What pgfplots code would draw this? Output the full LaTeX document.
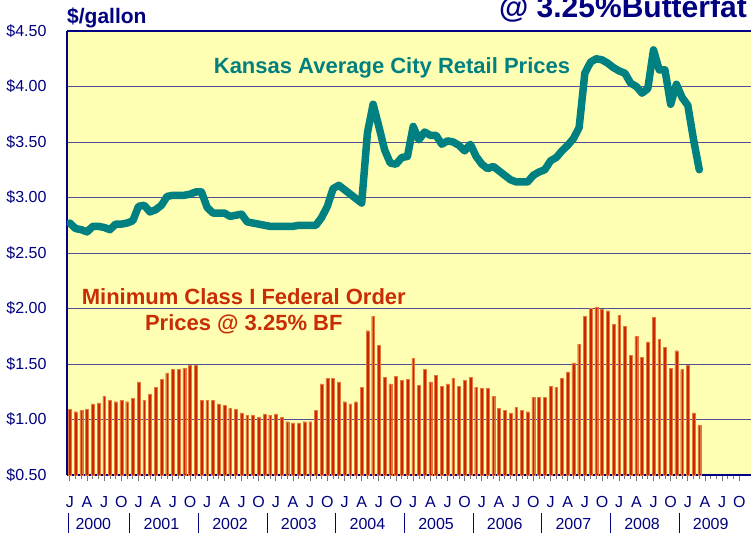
\documentclass[border=0pt]{standalone}
\usepackage{pgfplots}
\pgfplotsset{compat=1.18}
\usepackage{pgfplotstable}
\usepackage{fontspec}
\setmainfont{Liberation Sans}
\definecolor{navy}{RGB}{0,0,128}
\definecolor{tealc}{RGB}{0,128,128}
\definecolor{barred}{RGB}{200,40,0}
\definecolor{baredge}{RGB}{230,120,60}
\definecolor{bg}{RGB}{255,255,180}
\definecolor{gridc}{RGB}{80,80,150}
\definecolor{txtred}{RGB}{200,45,5}

\pgfplotstableread{
m v
0 1.09
1 1.07
2 1.08
3 1.09
4 1.14
5 1.15
6 1.21
7 1.17
8 1.16
9 1.17
10 1.16
11 1.19
12 1.34
13 1.17
14 1.23
15 1.29
16 1.36
17 1.42
18 1.45
19 1.45
20 1.46
21 1.49
22 1.49
23 1.17
24 1.17
25 1.17
26 1.14
27 1.13
28 1.10
29 1.09
30 1.06
31 1.04
32 1.04
33 1.02
34 1.05
35 1.04
36 1.05
37 1.02
38 0.98
39 0.97
40 0.97
41 0.98
42 0.98
43 1.08
44 1.32
45 1.37
46 1.37
47 1.34
48 1.16
49 1.14
50 1.16
51 1.29
52 1.80
53 1.93
54 1.67
55 1.38
56 1.32
57 1.39
58 1.35
59 1.36
60 1.55
61 1.31
62 1.45
63 1.34
64 1.40
65 1.30
66 1.32
67 1.37
68 1.30
69 1.35
70 1.38
71 1.29
72 1.28
73 1.28
74 1.21
75 1.10
76 1.08
77 1.06
78 1.11
79 1.08
80 1.07
81 1.20
82 1.20
83 1.20
84 1.30
85 1.29
86 1.37
87 1.43
88 1.51
89 1.68
90 1.93
91 2.00
92 2.01
93 1.99
94 1.98
95 1.86
96 1.94
97 1.84
98 1.58
99 1.75
100 1.56
101 1.70
102 1.92
103 1.72
104 1.65
105 1.46
106 1.62
107 1.45
108 1.49
109 1.06
110 0.95
}\classone

\pgfplotstableread{
m v
0 2.77
1 2.72
2 2.71
3 2.69
4 2.74
5 2.74
6 2.73
7 2.71
8 2.76
9 2.76
10 2.77
11 2.79
12 2.92
13 2.93
14 2.87
15 2.89
16 2.93
17 3.01
18 3.02
19 3.02
20 3.02
21 3.03
22 3.05
23 3.05
24 2.91
25 2.86
26 2.86
27 2.86
28 2.83
29 2.84
30 2.85
31 2.78
32 2.77
33 2.76
34 2.75
35 2.74
36 2.74
37 2.74
38 2.74
39 2.74
40 2.75
41 2.75
42 2.75
43 2.75
44 2.82
45 2.92
46 3.08
47 3.11
48 3.07
49 3.03
50 2.99
51 2.95
52 3.58
53 3.84
54 3.64
55 3.43
56 3.31
57 3.30
58 3.36
59 3.37
60 3.64
61 3.52
62 3.59
63 3.56
64 3.56
65 3.48
66 3.51
67 3.50
68 3.47
69 3.42
70 3.48
71 3.37
72 3.30
73 3.26
74 3.28
75 3.24
76 3.20
77 3.16
78 3.14
79 3.14
80 3.14
81 3.20
82 3.23
83 3.25
84 3.33
85 3.36
86 3.42
87 3.47
88 3.53
89 3.63
90 4.12
91 4.22
92 4.25
93 4.24
94 4.21
95 4.17
96 4.14
97 4.12
98 4.03
99 4.00
100 3.94
101 3.98
102 4.33
103 4.15
104 4.15
105 3.84
106 4.02
107 3.90
108 3.83
109 3.52
110 3.25
}\retail

\begin{document}
\begin{tikzpicture}
\begin{axis}[
  at={(0,0)}, anchor=south west,
  scale only axis, width=684pt, height=444pt,
  xmin=-0.5, xmax=119.04, ymin=0.5, ymax=4.5,
  axis background/.style={fill=bg},
  axis x line=box, axis y line=left,
  axis line style={navy, line width=1.2pt, -},
  ytick={0.5,1,...,4.5},
  yticklabels={\$0.50,\$1.00,\$1.50,\$2.00,\$2.50,\$3.00,\$3.50,\$4.00,\$4.50},
  ytick style={draw=none},
  ymajorgrids, grid style={gridc, line width=0.9pt},
  yticklabel style={font=\fontsize{16}{18}\selectfont, text=navy, anchor=east, xshift=-11pt},
  xtick={0,3,...,117},
  xticklabels={J,A,J,O,J,A,J,O,J,A,J,O,J,A,J,O,J,A,J,O,J,A,J,O,J,A,J,O,J,A,J,O,J,A,J,O,J,A,J,O},
  minor x tick num=2,
  xtick pos=left,
  tick align=outside,
  major tick length=6pt, minor tick length=4pt,
  xtick style={black!55, line width=0.8pt},
  minor tick style={black!55, line width=0.8pt},
  xticklabel style={font=\fontsize{16}{18}\selectfont, text=navy, anchor=center, yshift=-21pt},
  clip mode=individual,
]
\addplot[ybar, bar width=2.8pt, fill=barred, draw=baredge, line width=0.35pt] table[x=m, y=v] {\classone};
\addplot[tealc, line width=7.5pt, line join=round, line cap=round] table[x=m, y=v] {\retail};

\node[anchor=base, text=tealc, font=\fontsize{22}{26}\selectfont\bfseries] at (axis cs:56.3,4.113) {Kansas Average City Retail Prices};
\node[anchor=base, text=txtred, font=\fontsize{22}{26}\selectfont\bfseries] at (axis cs:30.4,2.032) {Minimum Class I Federal Order};
\node[anchor=base, text=txtred, font=\fontsize{22}{26}\selectfont\bfseries] at (axis cs:30.4,1.80) {Prices @ 3.25\% BF};
\node[anchor=base west, inner sep=0pt, text=navy, font=\fontsize{21}{24}\selectfont\bfseries] at (axis cs:-0.5,4.5) [yshift=7pt] {\$/gallon};
\node[anchor=base east, inner sep=0pt, text=navy, font=\fontsize{30}{34}\selectfont\bfseries] at (axis cs:118.34,4.5) [yshift=13pt] {@ 3.25\%Butterfat};

\draw[navy, line width=1pt] (axis cs:-0.3,0.158) -- (axis cs:-0.3,-0.0225);
\draw[navy, line width=1pt] (axis cs:10.5,0.158) -- (axis cs:10.5,-0.0225);
\draw[navy, line width=1pt] (axis cs:22.5,0.158) -- (axis cs:22.5,-0.0225);
\draw[navy, line width=1pt] (axis cs:34.5,0.158) -- (axis cs:34.5,-0.0225);
\draw[navy, line width=1pt] (axis cs:46.5,0.158) -- (axis cs:46.5,-0.0225);
\draw[navy, line width=1pt] (axis cs:58.5,0.158) -- (axis cs:58.5,-0.0225);
\draw[navy, line width=1pt] (axis cs:70.5,0.158) -- (axis cs:70.5,-0.0225);
\draw[navy, line width=1pt] (axis cs:82.5,0.158) -- (axis cs:82.5,-0.0225);
\draw[navy, line width=1pt] (axis cs:94.5,0.158) -- (axis cs:94.5,-0.0225);
\draw[navy, line width=1pt] (axis cs:106.5,0.158) -- (axis cs:106.5,-0.0225);

\node[text=navy, font=\fontsize{16}{18}\selectfont, anchor=center] at (axis cs:4.1,0.5) [yshift=-49pt] {2000};
\node[text=navy, font=\fontsize{16}{18}\selectfont, anchor=center] at (axis cs:16,0.5) [yshift=-49pt] {2001};
\node[text=navy, font=\fontsize{16}{18}\selectfont, anchor=center] at (axis cs:28,0.5) [yshift=-49pt] {2002};
\node[text=navy, font=\fontsize{16}{18}\selectfont, anchor=center] at (axis cs:40,0.5) [yshift=-49pt] {2003};
\node[text=navy, font=\fontsize{16}{18}\selectfont, anchor=center] at (axis cs:52,0.5) [yshift=-49pt] {2004};
\node[text=navy, font=\fontsize{16}{18}\selectfont, anchor=center] at (axis cs:64,0.5) [yshift=-49pt] {2005};
\node[text=navy, font=\fontsize{16}{18}\selectfont, anchor=center] at (axis cs:76,0.5) [yshift=-49pt] {2006};
\node[text=navy, font=\fontsize{16}{18}\selectfont, anchor=center] at (axis cs:88,0.5) [yshift=-49pt] {2007};
\node[text=navy, font=\fontsize{16}{18}\selectfont, anchor=center] at (axis cs:100,0.5) [yshift=-49pt] {2008};
\node[text=navy, font=\fontsize{16}{18}\selectfont, anchor=center] at (axis cs:112,0.5) [yshift=-49pt] {2009};
\end{axis}
\pgfresetboundingbox
\path[use as bounding box] (-67pt,-60pt) rectangle (684pt,475pt);
\end{tikzpicture}
\end{document}
